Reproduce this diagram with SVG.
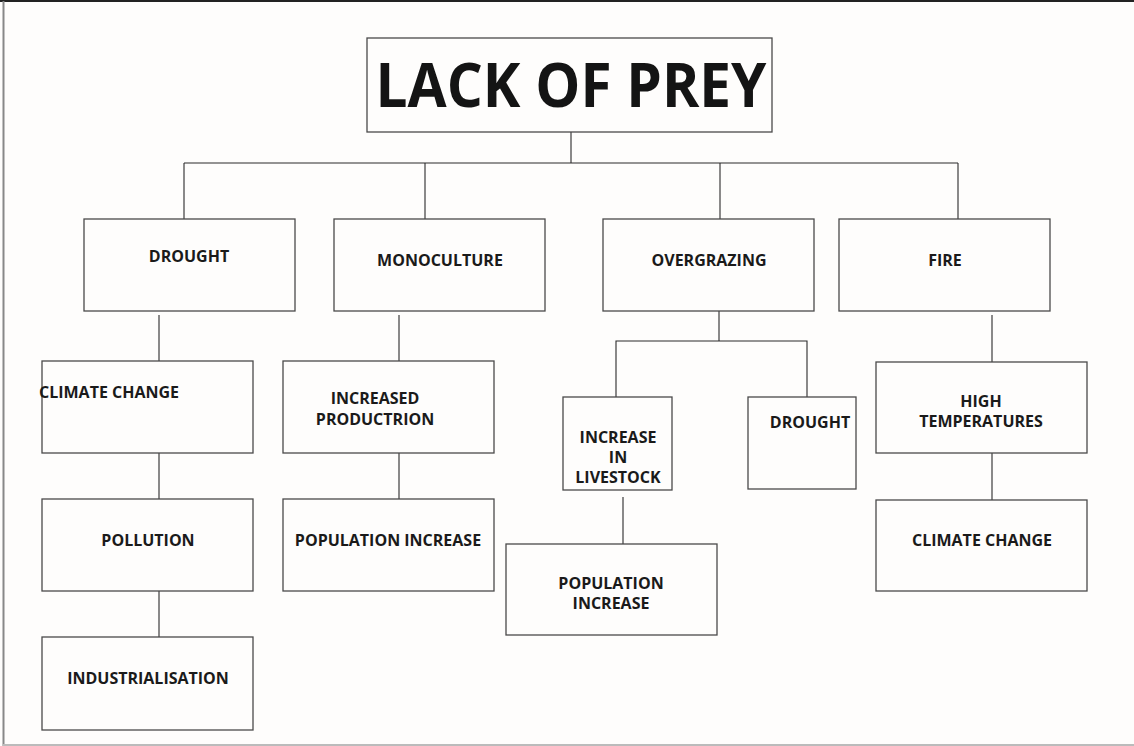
<svg xmlns="http://www.w3.org/2000/svg" width="1134" height="746" viewBox="0 0 1134 746">
<style>
.bg{fill:#fefdfc}
.box{fill:#fefdfc;stroke:#4a4a4a;stroke-width:1.3}
.lbl{font-family:"Open Sans","Liberation Sans",sans-serif;font-weight:bold;font-size:16px;fill:#1a1a1a;text-anchor:middle}
.title{font-family:"Open Sans","Liberation Sans",sans-serif;font-weight:bold;font-size:61px;fill:#141414;text-anchor:middle}
.conn line,.conn polyline{stroke:#2a2a2a;stroke-width:1.1;fill:none}
</style>
<rect class="bg" x="0" y="0" width="1134" height="746"/>
<g id="frame">
<line x1="0" y1="1" x2="1134" y2="1" stroke="#222" stroke-width="2"/>
<line x1="3.5" y1="1" x2="3.5" y2="746" stroke="#888" stroke-width="2"/>
<line x1="3" y1="745" x2="1134" y2="745" stroke="#bbb" stroke-width="2"/>
</g>
<g class="conn" id="connectors">
<line x1="571" y1="132" x2="571" y2="163"/>
<line x1="184" y1="163" x2="958" y2="163"/>
<line x1="184" y1="163" x2="184" y2="219"/>
<line x1="425" y1="163" x2="425" y2="219"/>
<line x1="720" y1="163" x2="720" y2="219"/>
<line x1="958" y1="163" x2="958" y2="219"/>
<line x1="159" y1="315" x2="159" y2="361"/>
<line x1="159" y1="453" x2="159" y2="499"/>
<line x1="159" y1="591" x2="159" y2="637"/>
<line x1="399" y1="315" x2="399" y2="361"/>
<line x1="399" y1="453" x2="399" y2="499"/>
<line x1="719" y1="311" x2="719" y2="341"/>
<polyline points="616,397 616,341 807,341 807,397"/>
<line x1="623" y1="497" x2="623" y2="544"/>
<line x1="992" y1="315" x2="992" y2="362"/>
<line x1="992" y1="453" x2="992" y2="500"/>
</g>
<g id="lack-of-prey">
<rect class="box" x="367" y="38" width="405" height="94"/>
<text class="title" x="571" y="107" textLength="391" lengthAdjust="spacingAndGlyphs">LACK OF PREY</text>
</g>
<g id="drought">
<rect class="box" x="84" y="219" width="211" height="92"/>
<text class="lbl" x="189" y="262">DROUGHT</text>
</g>
<g id="monoculture">
<rect class="box" x="334" y="219" width="211" height="92"/>
<text class="lbl" x="440" y="266">MONOCULTURE</text>
</g>
<g id="overgrazing">
<rect class="box" x="603" y="219" width="211" height="92"/>
<text class="lbl" x="709" y="266">OVERGRAZING</text>
</g>
<g id="fire">
<rect class="box" x="839" y="219" width="211" height="92"/>
<text class="lbl" x="945" y="266">FIRE</text>
</g>
<g id="climate-change-1">
<rect class="box" x="42" y="361" width="211" height="92"/>
<text class="lbl" x="39" y="398" style="text-anchor:start">CLIMATE CHANGE</text>
</g>
<g id="pollution">
<rect class="box" x="42" y="499" width="211" height="92"/>
<text class="lbl" x="148" y="546">POLLUTION</text>
</g>
<g id="industrialisation">
<rect class="box" x="42" y="637" width="211" height="93"/>
<text class="lbl" x="148" y="684">INDUSTRIALISATION</text>
</g>
<g id="increased-production">
<rect class="box" x="283" y="361" width="211" height="92"/>
<text class="lbl" x="375" y="404">INCREASED</text>
<text class="lbl" x="375" y="425">PRODUCTRION</text>
</g>
<g id="population-increase-1">
<rect class="box" x="283" y="499" width="211" height="92"/>
<text class="lbl" x="388" y="546">POPULATION INCREASE</text>
</g>
<g id="increase-in-livestock">
<rect class="box" x="563" y="397" width="109" height="93"/>
<text class="lbl" x="618" y="443">INCREASE</text>
<text class="lbl" x="618" y="463">IN</text>
<text class="lbl" x="618" y="483">LIVESTOCK</text>
</g>
<g id="drought-2">
<rect class="box" x="748" y="397" width="108" height="92"/>
<text class="lbl" x="810" y="428">DROUGHT</text>
</g>
<g id="population-increase-2">
<rect class="box" x="506" y="544" width="211" height="91"/>
<text class="lbl" x="611" y="589">POPULATION</text>
<text class="lbl" x="611" y="609">INCREASE</text>
</g>
<g id="high-temperatures">
<rect class="box" x="876" y="362" width="211" height="91"/>
<text class="lbl" x="981" y="407">HIGH</text>
<text class="lbl" x="981" y="427">TEMPERATURES</text>
</g>
<g id="climate-change-2">
<rect class="box" x="876" y="500" width="211" height="91"/>
<text class="lbl" x="982" y="546">CLIMATE CHANGE</text>
</g>
</svg>
